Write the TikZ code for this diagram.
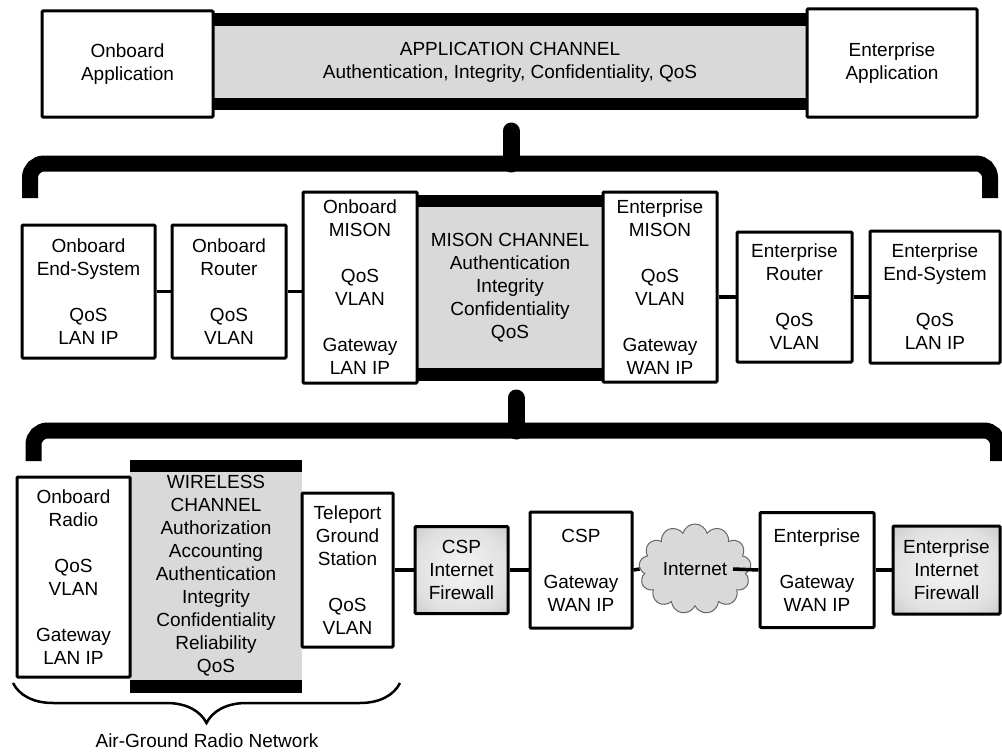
\documentclass[tikz,border=0pt]{standalone}
\usepackage{fontspec}
\setmainfont{Liberation Sans}
\usetikzlibrary{shapes.symbols,decorations.pathreplacing}
\definecolor{chgray}{HTML}{D9D9D9}
\pgfdeclareradialshading{fwshade}{\pgfpoint{0bp}{0bp}}{%
  color(0bp)=(black!4); color(25bp)=(black!12); color(45bp)=(black!28); color(60bp)=(black!38); color(80bp)=(black!38)}
\begin{document}
\begin{tikzpicture}[x=1pt,y=-1pt,
  every node/.style={font=\fontsize{19}{23}\selectfont, align=center, inner sep=0pt},
  box/.style={draw, line width=3pt, fill=white, rounded corners=1pt},
  chan/.style={fill=chgray},
  fw/.style={draw, line width=3pt, shading=fwshade, rounded corners=1pt},
  link/.style={line width=3.5pt},
  bracket/.style={line width=16pt, rounded corners=14pt},
  bump/.style={line width=17pt, line cap=round},
]
\useasboundingbox (0,0) rectangle (1002,752);

% ---------- top row ----------
\node[chan, minimum width=594pt, minimum height=72pt] (appch) at (510,62)
  {APPLICATION CHANNEL\\Authentication, Integrity, Confidentiality, QoS};
\fill (appch.north west) rectangle ([yshift=13pt]appch.north east);
\fill (appch.south west) rectangle ([yshift=-12pt]appch.south east);
\node[box, minimum width=171pt, minimum height=106pt] (oapp) at (127.5,64) {Onboard\\Application};
\node[box, minimum width=170pt, minimum height=108pt] (eapp) at (892,63) {Enterprise\\Application};

% bracket 1
\draw[bracket] (30,198) -- (30,163.5) -- (990,163.5) -- (990,198);
\draw[bump] (511,164) -- (511,131);

% ---------- middle row ----------
\node[chan, minimum width=186pt, minimum height=161pt] (misonch) at (510,287.5)
  {MISON CHANNEL\\Authentication\\Integrity\\Confidentiality\\QoS};
\fill (misonch.north west) rectangle ([yshift=12pt]misonch.north east);
\fill (misonch.south west) rectangle ([yshift=-13pt]misonch.south east);
\node[box, minimum width=133pt, minimum height=133pt] (oes) at (88.5,291.5) {Onboard\\End-System\\[23pt]QoS\\LAN IP};
\node[box, minimum width=114pt, minimum height=133pt] (orout) at (229,291.5) {Onboard\\Router\\[23pt]QoS\\VLAN};
\node[box, minimum width=114pt, minimum height=191pt] (omison) at (360,287.5) {Onboard\\MISON\\[23pt]QoS\\VLAN\\[23pt]Gateway\\LAN IP};
\node[box, minimum width=114pt, minimum height=190pt] (emison) at (660,287) {Enterprise\\MISON\\[23pt]QoS\\VLAN\\[23pt]Gateway\\WAN IP};
\node[box, minimum width=115pt, minimum height=130pt] (erout) at (794.5,297) {Enterprise\\Router\\[23pt]QoS\\VLAN};
\node[box, minimum width=130pt, minimum height=132pt] (ees) at (935,297) {Enterprise\\End-System\\[23pt]QoS\\LAN IP};

\draw[link] (oes.east) -- (orout.west);
\draw[link] (orout.east) -- (orout.east -| omison.west);
\draw[link] (emison.east |- erout.west) -- (erout.west);
\draw[link] (erout.east) -- (ees.west);

% bracket 2
\draw[bracket] (33.5,461) -- (33.5,430.5) -- (998,430.5) -- (998,461);
\draw[bump] (516,431) -- (516,398);

% ---------- bottom row ----------
\node[chan, minimum width=172pt, minimum height=208pt] (wch) at (216,576)
  {WIRELESS\\CHANNEL\\Authorization\\Accounting\\Authentication\\Integrity\\Confidentiality\\Reliability\\QoS};
\fill (wch.north west) rectangle ([yshift=12pt]wch.north east);
\fill (wch.south west) rectangle ([yshift=-13pt]wch.south east);
\node[box, minimum width=113pt, minimum height=200pt] (oradio) at (73.5,577) {Onboard\\Radio\\[23pt]QoS\\VLAN\\[23pt]Gateway\\LAN IP};
\node[box, minimum width=91pt, minimum height=154pt] (tele) at (347.5,570) {Teleport\\Ground\\Station\\[23pt]QoS\\VLAN};
\node[fw, minimum width=93pt, minimum height=87pt] (cspfw) at (461.5,570) {CSP\\Internet\\Firewall};
\node[box, minimum width=102pt, minimum height=116pt] (cspgw) at (581,570) {CSP\\[23pt]Gateway\\WAN IP};
\node[cloud, cloud puffs=13, aspect=1.25, draw=black!60, fill=chgray, line width=1pt,
      minimum width=112pt, minimum height=90pt] (inet) at (695,569) {Internet};
\node[box, minimum width=114pt, minimum height=115pt] (entgw) at (817,570) {Enterprise\\[23pt]Gateway\\WAN IP};
\node[fw, minimum width=107pt, minimum height=88pt] (entfw) at (946.5,570) {Enterprise\\Internet\\Firewall};

\coordinate (cin) at ([xshift=38pt]inet.center);
\draw[link] (tele.east) -- (cspfw.west);
\draw[link] (cspfw.east) -- (cspgw.west);
\draw[link] (cspgw.east) -- (inet.west);
\draw[link] (cin) -- (entgw.west);
\draw[link] (entgw.east) -- (entfw.west);

% brace
\draw[line width=2.5pt, decorate, decoration={brace, amplitude=40pt, mirror}] (13,683) -- (400,683);
\node (agrn) at (207,741) {Air-Ground Radio Network};
\end{tikzpicture}
\end{document}
